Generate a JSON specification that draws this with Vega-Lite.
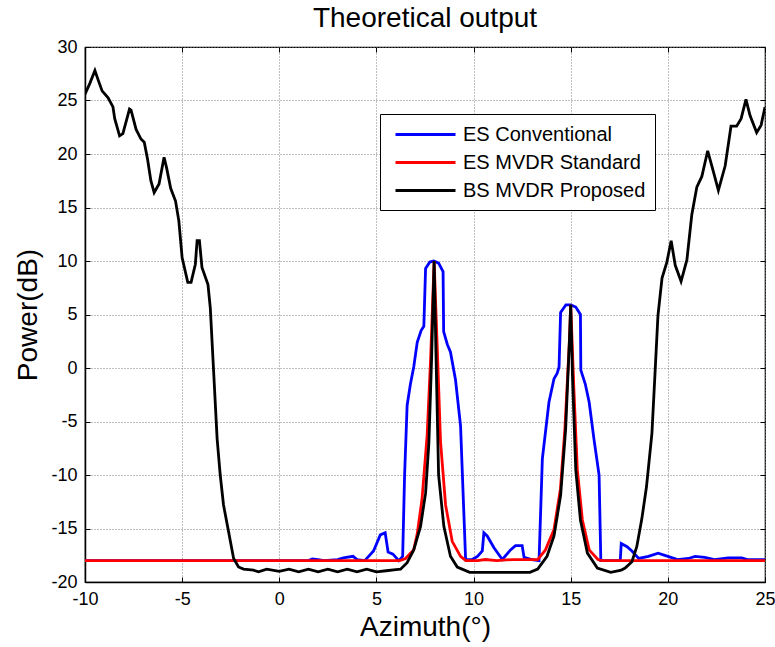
{
  "$schema": "https://vega.github.io/schema/vega-lite/v6.json",
  "width": 680,
  "height": 535,
  "autosize": {"type": "none"},
  "padding": {"left": 85, "top": 47, "right": 10, "bottom": 65},
  "background": "white",
  "title": {"text": "Theoretical output", "fontSize": 28, "font": "Liberation Sans", "fontWeight": "normal", "color": "black", "offset": 5},
  "config": {
    "view": {"stroke": "black", "strokeWidth": 1.2},
    "font": "Liberation Sans",
    "axis": {
      "labelFont": "Liberation Sans",
      "labelFontSize": 18,
      "labelColor": "black",
      "labelFlush": false,
      "labelOverlap": false,
      "titleFont": "Liberation Sans",
      "titleFontSize": 28,
      "titleFontWeight": "normal",
      "titleColor": "black",
      "gridColor": "#808080",
      "gridDash": [1, 2],
      "gridWidth": 1,
      "gridOpacity": 1,
      "domainColor": "black",
      "domainWidth": 1.5,
      "tickColor": "black",
      "tickSize": -5,
      "tickWidth": 1,
      "labelPadding": 13,
      "labelExpr": "'' + datum.value"
    }
  },
  "data": {
    "values": [
      {"s": "ES Conventional", "az": -10, "p": -18},
      {"s": "ES Conventional", "az": 1.5, "p": -18},
      {"s": "ES Conventional", "az": 1.7, "p": -17.85},
      {"s": "ES Conventional", "az": 2.0, "p": -17.9},
      {"s": "ES Conventional", "az": 2.3, "p": -18},
      {"s": "ES Conventional", "az": 3.0, "p": -17.9},
      {"s": "ES Conventional", "az": 3.3, "p": -17.75},
      {"s": "ES Conventional", "az": 3.8, "p": -17.6},
      {"s": "ES Conventional", "az": 4.0, "p": -17.9},
      {"s": "ES Conventional", "az": 4.4, "p": -18},
      {"s": "ES Conventional", "az": 4.85, "p": -17.1},
      {"s": "ES Conventional", "az": 5.2, "p": -15.6},
      {"s": "ES Conventional", "az": 5.45, "p": -15.4},
      {"s": "ES Conventional", "az": 5.6, "p": -17.2},
      {"s": "ES Conventional", "az": 5.85, "p": -17.4},
      {"s": "ES Conventional", "az": 6.15, "p": -18},
      {"s": "ES Conventional", "az": 6.35, "p": -17.6},
      {"s": "ES Conventional", "az": 6.45, "p": -10},
      {"s": "ES Conventional", "az": 6.58, "p": -3.5},
      {"s": "ES Conventional", "az": 6.75, "p": -1.5},
      {"s": "ES Conventional", "az": 6.92, "p": 0.1},
      {"s": "ES Conventional", "az": 7.1, "p": 2.4},
      {"s": "ES Conventional", "az": 7.3, "p": 3.5},
      {"s": "ES Conventional", "az": 7.44, "p": 3.9},
      {"s": "ES Conventional", "az": 7.53, "p": 9.3},
      {"s": "ES Conventional", "az": 7.75, "p": 9.9},
      {"s": "ES Conventional", "az": 7.95, "p": 10},
      {"s": "ES Conventional", "az": 8.2, "p": 9.8},
      {"s": "ES Conventional", "az": 8.43, "p": 9.0},
      {"s": "ES Conventional", "az": 8.46, "p": 3.4},
      {"s": "ES Conventional", "az": 8.65, "p": 2.2},
      {"s": "ES Conventional", "az": 8.81, "p": 1.5},
      {"s": "ES Conventional", "az": 9.07, "p": -1.1},
      {"s": "ES Conventional", "az": 9.33, "p": -5.4},
      {"s": "ES Conventional", "az": 9.59, "p": -17.9},
      {"s": "ES Conventional", "az": 9.93, "p": -17.9},
      {"s": "ES Conventional", "az": 10.2, "p": -17.6},
      {"s": "ES Conventional", "az": 10.45, "p": -17.1},
      {"s": "ES Conventional", "az": 10.53, "p": -15.4},
      {"s": "ES Conventional", "az": 10.7, "p": -15.7},
      {"s": "ES Conventional", "az": 11.05, "p": -16.8},
      {"s": "ES Conventional", "az": 11.48, "p": -17.9},
      {"s": "ES Conventional", "az": 11.9, "p": -17},
      {"s": "ES Conventional", "az": 12.16, "p": -16.6},
      {"s": "ES Conventional", "az": 12.5, "p": -16.6},
      {"s": "ES Conventional", "az": 12.6, "p": -17.7},
      {"s": "ES Conventional", "az": 13.0, "p": -17.9},
      {"s": "ES Conventional", "az": 13.37, "p": -18},
      {"s": "ES Conventional", "az": 13.54, "p": -8.5},
      {"s": "ES Conventional", "az": 13.88, "p": -3.2},
      {"s": "ES Conventional", "az": 14.14, "p": -1.0},
      {"s": "ES Conventional", "az": 14.3, "p": -0.5},
      {"s": "ES Conventional", "az": 14.4, "p": 0.1},
      {"s": "ES Conventional", "az": 14.48, "p": 5.2},
      {"s": "ES Conventional", "az": 14.75, "p": 5.9},
      {"s": "ES Conventional", "az": 15.0, "p": 5.9},
      {"s": "ES Conventional", "az": 15.26, "p": 5.7},
      {"s": "ES Conventional", "az": 15.5, "p": 5.0},
      {"s": "ES Conventional", "az": 15.52, "p": -0.2},
      {"s": "ES Conventional", "az": 15.75, "p": -1.5},
      {"s": "ES Conventional", "az": 15.95, "p": -3.2},
      {"s": "ES Conventional", "az": 16.2, "p": -6.7},
      {"s": "ES Conventional", "az": 16.46, "p": -10},
      {"s": "ES Conventional", "az": 16.55, "p": -18},
      {"s": "ES Conventional", "az": 17.55, "p": -18},
      {"s": "ES Conventional", "az": 17.6, "p": -16.4},
      {"s": "ES Conventional", "az": 17.9, "p": -16.7},
      {"s": "ES Conventional", "az": 18.15, "p": -17.1},
      {"s": "ES Conventional", "az": 18.5, "p": -17.8},
      {"s": "ES Conventional", "az": 19.0, "p": -17.6},
      {"s": "ES Conventional", "az": 19.5, "p": -17.3},
      {"s": "ES Conventional", "az": 20.0, "p": -17.6},
      {"s": "ES Conventional", "az": 20.5, "p": -17.9},
      {"s": "ES Conventional", "az": 21.06, "p": -17.8},
      {"s": "ES Conventional", "az": 21.4, "p": -17.6},
      {"s": "ES Conventional", "az": 21.9, "p": -17.7},
      {"s": "ES Conventional", "az": 22.4, "p": -17.9},
      {"s": "ES Conventional", "az": 23.1, "p": -17.75},
      {"s": "ES Conventional", "az": 23.8, "p": -17.75},
      {"s": "ES Conventional", "az": 24.1, "p": -17.9},
      {"s": "ES Conventional", "az": 25, "p": -17.9},

      {"s": "ES MVDR Standard", "az": -10, "p": -18},
      {"s": "ES MVDR Standard", "az": 6.2, "p": -18},
      {"s": "ES MVDR Standard", "az": 6.5, "p": -17.8},
      {"s": "ES MVDR Standard", "az": 6.75, "p": -17.3},
      {"s": "ES MVDR Standard", "az": 6.92, "p": -17},
      {"s": "ES MVDR Standard", "az": 7.1, "p": -15.5},
      {"s": "ES MVDR Standard", "az": 7.35, "p": -12.2},
      {"s": "ES MVDR Standard", "az": 7.61, "p": -6.3},
      {"s": "ES MVDR Standard", "az": 7.79, "p": 0.9},
      {"s": "ES MVDR Standard", "az": 7.97, "p": 10},
      {"s": "ES MVDR Standard", "az": 8.15, "p": 0.9},
      {"s": "ES MVDR Standard", "az": 8.3, "p": -6.9},
      {"s": "ES MVDR Standard", "az": 8.56, "p": -12.8},
      {"s": "ES MVDR Standard", "az": 8.9, "p": -16.2},
      {"s": "ES MVDR Standard", "az": 9.33, "p": -17.6},
      {"s": "ES MVDR Standard", "az": 9.6, "p": -18},
      {"s": "ES MVDR Standard", "az": 10.2, "p": -18},
      {"s": "ES MVDR Standard", "az": 10.6, "p": -17.9},
      {"s": "ES MVDR Standard", "az": 11.2, "p": -18},
      {"s": "ES MVDR Standard", "az": 12.0, "p": -17.9},
      {"s": "ES MVDR Standard", "az": 13.3, "p": -17.9},
      {"s": "ES MVDR Standard", "az": 13.7, "p": -17},
      {"s": "ES MVDR Standard", "az": 14.14, "p": -15.1},
      {"s": "ES MVDR Standard", "az": 14.47, "p": -11.3},
      {"s": "ES MVDR Standard", "az": 14.7, "p": -5.7},
      {"s": "ES MVDR Standard", "az": 14.93, "p": 2.4},
      {"s": "ES MVDR Standard", "az": 15.0, "p": 5.9},
      {"s": "ES MVDR Standard", "az": 15.17, "p": -2.3},
      {"s": "ES MVDR Standard", "az": 15.34, "p": -9.5},
      {"s": "ES MVDR Standard", "az": 15.6, "p": -14.2},
      {"s": "ES MVDR Standard", "az": 15.95, "p": -17},
      {"s": "ES MVDR Standard", "az": 16.4, "p": -17.9},
      {"s": "ES MVDR Standard", "az": 16.6, "p": -18},
      {"s": "ES MVDR Standard", "az": 25, "p": -18},

      {"s": "BS MVDR Proposed", "az": -10, "p": 25.6},
      {"s": "BS MVDR Proposed", "az": -9.75, "p": 26.6},
      {"s": "BS MVDR Proposed", "az": -9.49, "p": 27.8},
      {"s": "BS MVDR Proposed", "az": -9.32, "p": 26.9},
      {"s": "BS MVDR Proposed", "az": -9.12, "p": 25.9},
      {"s": "BS MVDR Proposed", "az": -8.81, "p": 25.25},
      {"s": "BS MVDR Proposed", "az": -8.56, "p": 24.4},
      {"s": "BS MVDR Proposed", "az": -8.47, "p": 23.3},
      {"s": "BS MVDR Proposed", "az": -8.22, "p": 21.7},
      {"s": "BS MVDR Proposed", "az": -8.05, "p": 21.9},
      {"s": "BS MVDR Proposed", "az": -7.71, "p": 24.2},
      {"s": "BS MVDR Proposed", "az": -7.63, "p": 24.1},
      {"s": "BS MVDR Proposed", "az": -7.37, "p": 22.3},
      {"s": "BS MVDR Proposed", "az": -7.12, "p": 21.4},
      {"s": "BS MVDR Proposed", "az": -6.95, "p": 21.1},
      {"s": "BS MVDR Proposed", "az": -6.78, "p": 19.5},
      {"s": "BS MVDR Proposed", "az": -6.61, "p": 17.5},
      {"s": "BS MVDR Proposed", "az": -6.44, "p": 16.4},
      {"s": "BS MVDR Proposed", "az": -6.19, "p": 17.2},
      {"s": "BS MVDR Proposed", "az": -5.93, "p": 19.7},
      {"s": "BS MVDR Proposed", "az": -5.8, "p": 18.7},
      {"s": "BS MVDR Proposed", "az": -5.59, "p": 16.8},
      {"s": "BS MVDR Proposed", "az": -5.34, "p": 15.6},
      {"s": "BS MVDR Proposed", "az": -5.17, "p": 13.75},
      {"s": "BS MVDR Proposed", "az": -5.0, "p": 10.3},
      {"s": "BS MVDR Proposed", "az": -4.71, "p": 8.0},
      {"s": "BS MVDR Proposed", "az": -4.54, "p": 8.0},
      {"s": "BS MVDR Proposed", "az": -4.32, "p": 9.7},
      {"s": "BS MVDR Proposed", "az": -4.23, "p": 11.9},
      {"s": "BS MVDR Proposed", "az": -4.11, "p": 11.9},
      {"s": "BS MVDR Proposed", "az": -3.98, "p": 9.4},
      {"s": "BS MVDR Proposed", "az": -3.67, "p": 7.8},
      {"s": "BS MVDR Proposed", "az": -3.55, "p": 5.6},
      {"s": "BS MVDR Proposed", "az": -3.38, "p": -0.3},
      {"s": "BS MVDR Proposed", "az": -3.2, "p": -6.6},
      {"s": "BS MVDR Proposed", "az": -3.04, "p": -10},
      {"s": "BS MVDR Proposed", "az": -2.87, "p": -12.8},
      {"s": "BS MVDR Proposed", "az": -2.61, "p": -15.3},
      {"s": "BS MVDR Proposed", "az": -2.35, "p": -17.8},
      {"s": "BS MVDR Proposed", "az": -2.1, "p": -18.6},
      {"s": "BS MVDR Proposed", "az": -1.84, "p": -18.8},
      {"s": "BS MVDR Proposed", "az": -1.33, "p": -18.9},
      {"s": "BS MVDR Proposed", "az": -1.07, "p": -19.05},
      {"s": "BS MVDR Proposed", "az": -0.65, "p": -18.8},
      {"s": "BS MVDR Proposed", "az": 0, "p": -19.0},
      {"s": "BS MVDR Proposed", "az": 0.5, "p": -18.8},
      {"s": "BS MVDR Proposed", "az": 1.0, "p": -19.05},
      {"s": "BS MVDR Proposed", "az": 1.5, "p": -18.8},
      {"s": "BS MVDR Proposed", "az": 2.0, "p": -19.05},
      {"s": "BS MVDR Proposed", "az": 2.5, "p": -18.8},
      {"s": "BS MVDR Proposed", "az": 3.0, "p": -19.05},
      {"s": "BS MVDR Proposed", "az": 3.5, "p": -18.8},
      {"s": "BS MVDR Proposed", "az": 4.0, "p": -19.05},
      {"s": "BS MVDR Proposed", "az": 4.5, "p": -18.8},
      {"s": "BS MVDR Proposed", "az": 5.0, "p": -19.05},
      {"s": "BS MVDR Proposed", "az": 5.5, "p": -18.95},
      {"s": "BS MVDR Proposed", "az": 6.0, "p": -18.85},
      {"s": "BS MVDR Proposed", "az": 6.24, "p": -18.8},
      {"s": "BS MVDR Proposed", "az": 6.58, "p": -18.2},
      {"s": "BS MVDR Proposed", "az": 6.92, "p": -17},
      {"s": "BS MVDR Proposed", "az": 7.27, "p": -14.8},
      {"s": "BS MVDR Proposed", "az": 7.53, "p": -11.7},
      {"s": "BS MVDR Proposed", "az": 7.7, "p": -7},
      {"s": "BS MVDR Proposed", "az": 7.84, "p": 0.9},
      {"s": "BS MVDR Proposed", "az": 7.97, "p": 10},
      {"s": "BS MVDR Proposed", "az": 8.07, "p": 0.9},
      {"s": "BS MVDR Proposed", "az": 8.2, "p": -10},
      {"s": "BS MVDR Proposed", "az": 8.47, "p": -14.8},
      {"s": "BS MVDR Proposed", "az": 8.81, "p": -17.6},
      {"s": "BS MVDR Proposed", "az": 9.16, "p": -18.6},
      {"s": "BS MVDR Proposed", "az": 9.8, "p": -19.1},
      {"s": "BS MVDR Proposed", "az": 12.9, "p": -19.1},
      {"s": "BS MVDR Proposed", "az": 13.3, "p": -18.8},
      {"s": "BS MVDR Proposed", "az": 13.78, "p": -17.6},
      {"s": "BS MVDR Proposed", "az": 14.14, "p": -15.7},
      {"s": "BS MVDR Proposed", "az": 14.48, "p": -11.9},
      {"s": "BS MVDR Proposed", "az": 14.74, "p": -5.7},
      {"s": "BS MVDR Proposed", "az": 14.93, "p": 2.4},
      {"s": "BS MVDR Proposed", "az": 15.0, "p": 5.9},
      {"s": "BS MVDR Proposed", "az": 15.09, "p": -0.7},
      {"s": "BS MVDR Proposed", "az": 15.26, "p": -9.5},
      {"s": "BS MVDR Proposed", "az": 15.5, "p": -14.2},
      {"s": "BS MVDR Proposed", "az": 15.86, "p": -17.3},
      {"s": "BS MVDR Proposed", "az": 16.37, "p": -18.7},
      {"s": "BS MVDR Proposed", "az": 17.06, "p": -19.1},
      {"s": "BS MVDR Proposed", "az": 17.6, "p": -18.9},
      {"s": "BS MVDR Proposed", "az": 17.8, "p": -18.7},
      {"s": "BS MVDR Proposed", "az": 18.15, "p": -18.1},
      {"s": "BS MVDR Proposed", "az": 18.4, "p": -16.7},
      {"s": "BS MVDR Proposed", "az": 18.66, "p": -14.1},
      {"s": "BS MVDR Proposed", "az": 18.9, "p": -11.1},
      {"s": "BS MVDR Proposed", "az": 19.18, "p": -6.1},
      {"s": "BS MVDR Proposed", "az": 19.35, "p": -0.1},
      {"s": "BS MVDR Proposed", "az": 19.49, "p": 4.9},
      {"s": "BS MVDR Proposed", "az": 19.7, "p": 8.4},
      {"s": "BS MVDR Proposed", "az": 19.95, "p": 9.9},
      {"s": "BS MVDR Proposed", "az": 20.17, "p": 11.9},
      {"s": "BS MVDR Proposed", "az": 20.38, "p": 9.6},
      {"s": "BS MVDR Proposed", "az": 20.68, "p": 8.1},
      {"s": "BS MVDR Proposed", "az": 20.98, "p": 10.1},
      {"s": "BS MVDR Proposed", "az": 21.23, "p": 14.3},
      {"s": "BS MVDR Proposed", "az": 21.49, "p": 16.9},
      {"s": "BS MVDR Proposed", "az": 21.75, "p": 17.9},
      {"s": "BS MVDR Proposed", "az": 22.05, "p": 20.3},
      {"s": "BS MVDR Proposed", "az": 22.35, "p": 18.3},
      {"s": "BS MVDR Proposed", "az": 22.6, "p": 16.6},
      {"s": "BS MVDR Proposed", "az": 22.95, "p": 18.9},
      {"s": "BS MVDR Proposed", "az": 23.25, "p": 22.6},
      {"s": "BS MVDR Proposed", "az": 23.54, "p": 22.6},
      {"s": "BS MVDR Proposed", "az": 23.77, "p": 23.3},
      {"s": "BS MVDR Proposed", "az": 24.02, "p": 25.1},
      {"s": "BS MVDR Proposed", "az": 24.23, "p": 23.6},
      {"s": "BS MVDR Proposed", "az": 24.57, "p": 22.0},
      {"s": "BS MVDR Proposed", "az": 24.8, "p": 22.7},
      {"s": "BS MVDR Proposed", "az": 25, "p": 24.4}
    ]
  },
  "resolve": {"axis": {"x": "independent", "y": "independent"}},
  "layer": [
    {
      "mark": {"type": "line", "strokeWidth": 2.8, "clip": true},
      "encoding": {
        "x": {
          "field": "az", "type": "quantitative",
          "scale": {"domain": [-10, 25], "nice": false, "zero": false},
          "axis": {"title": "Azimuth(°)", "values": [-10, -5, 0, 5, 10, 15, 20, 25], "grid": true, "titlePadding": 5}
        },
        "y": {
          "field": "p", "type": "quantitative",
          "scale": {"domain": [-20, 30], "nice": false, "zero": false},
          "axis": {"title": "Power(dB)", "values": [-20, -15, -10, -5, 0, 5, 10, 15, 20, 25, 30], "grid": true, "titlePadding": 8}
        },
        "color": {
          "field": "s", "type": "nominal",
          "scale": {"domain": ["ES Conventional", "ES MVDR Standard", "BS MVDR Proposed"], "range": ["#0000ff", "#ff0000", "#000000"]},
          "legend": {
            "orient": "none", "legendX": 295, "legendY": 67, "title": null, "direction": "vertical",
            "strokeColor": "black", "fillColor": "white", "padding": 9,
            "labelFont": "Liberation Sans", "labelFontSize": 20, "labelColor": "black", "labelLimit": 400,
            "symbolType": "M-3,0H3", "symbolSize": 400, "symbolStrokeWidth": 2.8,
            "symbolOffset": 25, "labelOffset": 26, "rowPadding": 6
          }
        }
      }
    },
    {
      "mark": {"type": "point", "opacity": 0},
      "encoding": {
        "x": {
          "field": "az", "type": "quantitative",
          "scale": {"domain": [-10, 25], "nice": false, "zero": false},
          "axis": {"orient": "top", "title": null, "labels": false, "grid": false, "domain": false, "values": [-10, -5, 0, 5, 10, 15, 20, 25]}
        },
        "y": {
          "field": "p", "type": "quantitative",
          "scale": {"domain": [-20, 30], "nice": false, "zero": false},
          "axis": {"orient": "right", "title": null, "labels": false, "grid": false, "domain": false, "values": [-20, -15, -10, -5, 0, 5, 10, 15, 20, 25, 30]}
        }
      }
    }
  ]
}
